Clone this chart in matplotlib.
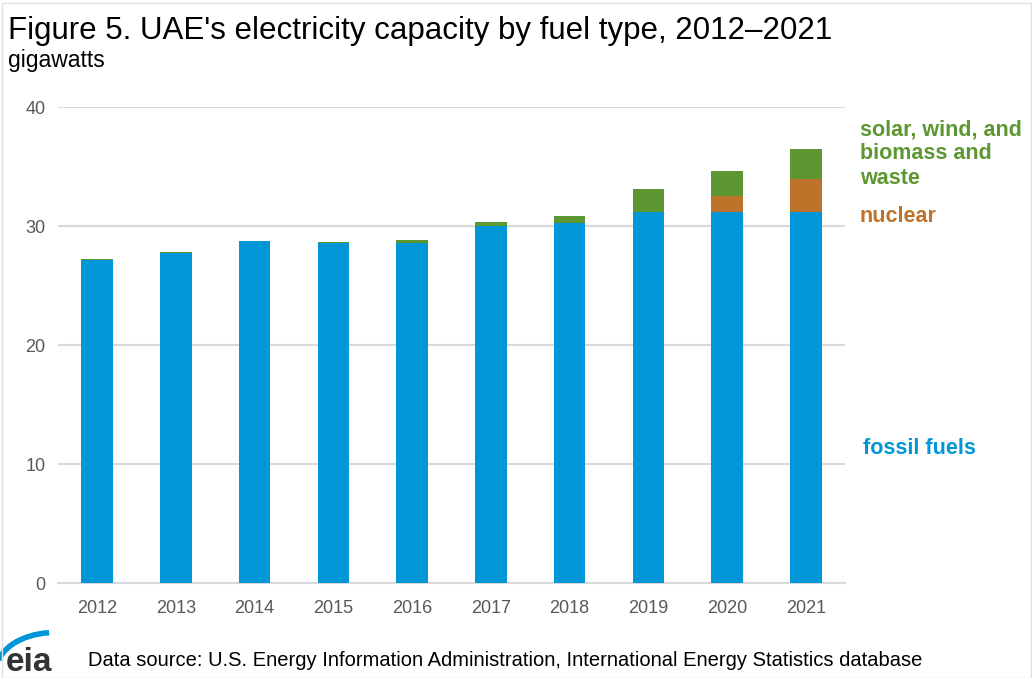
import matplotlib.pyplot as plt
import numpy as np
from matplotlib.patches import Arc, Rectangle

plt.rcParams['font.family'] = ['Liberation Sans', 'DejaVu Sans']

# Daten (Gigawatt)
years = ['2012', '2013', '2014', '2015', '2016', '2017', '2018', '2019', '2020', '2021']
fossil = [27.15, 27.75, 28.75, 28.55, 28.6, 30.05, 30.3, 31.2, 31.2, 31.2]
nuclear = [0, 0, 0, 0, 0, 0, 0, 0, 1.35, 2.8]
renewables = [0.1, 0.05, 0.03, 0.1, 0.2, 0.28, 0.54, 1.9, 2.1, 2.5]

c_fossil = '#0096D7'
c_nuclear = '#BD732A'
c_renew = '#5D9732'

fig = plt.figure(figsize=(10.32, 6.78), dpi=100)
ax = fig.add_axes([0.056, 0.140, 0.763, 0.702])

x = np.arange(len(years))
fossil = np.array(fossil)
nuclear = np.array(nuclear)
renewables = np.array(renewables)
ax.bar(x, fossil, width=0.4, color=c_fossil, zorder=3)
ax.bar(x, nuclear, width=0.4, bottom=fossil, color=c_nuclear, zorder=3)
ax.bar(x, renewables, width=0.4, bottom=fossil + nuclear, color=c_renew, zorder=3)

ax.set_xlim(-0.5, len(years) - 0.5)
ax.set_ylim(0, 40)
ax.set_yticks([0, 10, 20, 30, 40])
ax.set_xticks(x)
ax.set_xticklabels(years)
ax.tick_params(length=0, labelsize=13, colors='#595959')
ax.tick_params(axis='x', pad=12)
ax.tick_params(axis='y', pad=9)
ax.yaxis.grid(True, color='#D9D9D9', linewidth=1.5, zorder=0)
for s in ['top', 'right', 'left']:
    ax.spines[s].set_visible(False)
ax.spines['bottom'].set_color('#D9D9D9')
ax.spines['bottom'].set_linewidth(1.5)

# Beschriftungen rechts
fig.text(0.833, 0.773, 'solar, wind, and\nbiomass and\nwaste', color=c_renew, fontsize=15.5,
         fontweight='bold', va='center', ha='left', linespacing=1.2)
fig.text(0.833, 0.681, 'nuclear', color=c_nuclear, fontsize=15.5, fontweight='bold', va='center')
fig.text(0.836, 0.339, 'fossil fuels', color=c_fossil, fontsize=15.5, fontweight='bold', va='center')

# Titel
fig.text(0.008, 0.942, "Figure 5. UAE's electricity capacity by fuel type, 2012\u20132021",
         fontsize=22.5, va='baseline', color='#000000')
fig.text(0.008, 0.901, 'gigawatts', fontsize=16.5, va='baseline', color='#000000')

# Quelle + Logo
fig.text(0.085, 0.018, 'Data source: U.S. Energy Information Administration, International Energy Statistics database',
         fontsize=14.5, va='baseline', color='#000000')
fig.text(0.006, 0.01, 'eia', fontsize=24, fontweight='bold', color='#333333', va='baseline')
logo = fig.add_axes([0.0, 0.025, 0.07, 0.07])
logo.add_patch(Arc((0.75, -0.2), 1.6, 1.6, theta1=95, theta2=175, color='#0096D7', linewidth=4))
logo.set_xlim(0, 1)
logo.set_ylim(0, 1)
logo.axis('off')

# Rahmen
fig.patches.append(Rectangle((0.002, 0.0), 0.997, 0.995, transform=fig.transFigure,
                             fill=False, edgecolor='#E0E0E0', linewidth=1))

plt.savefig('out.png', dpi=100)
